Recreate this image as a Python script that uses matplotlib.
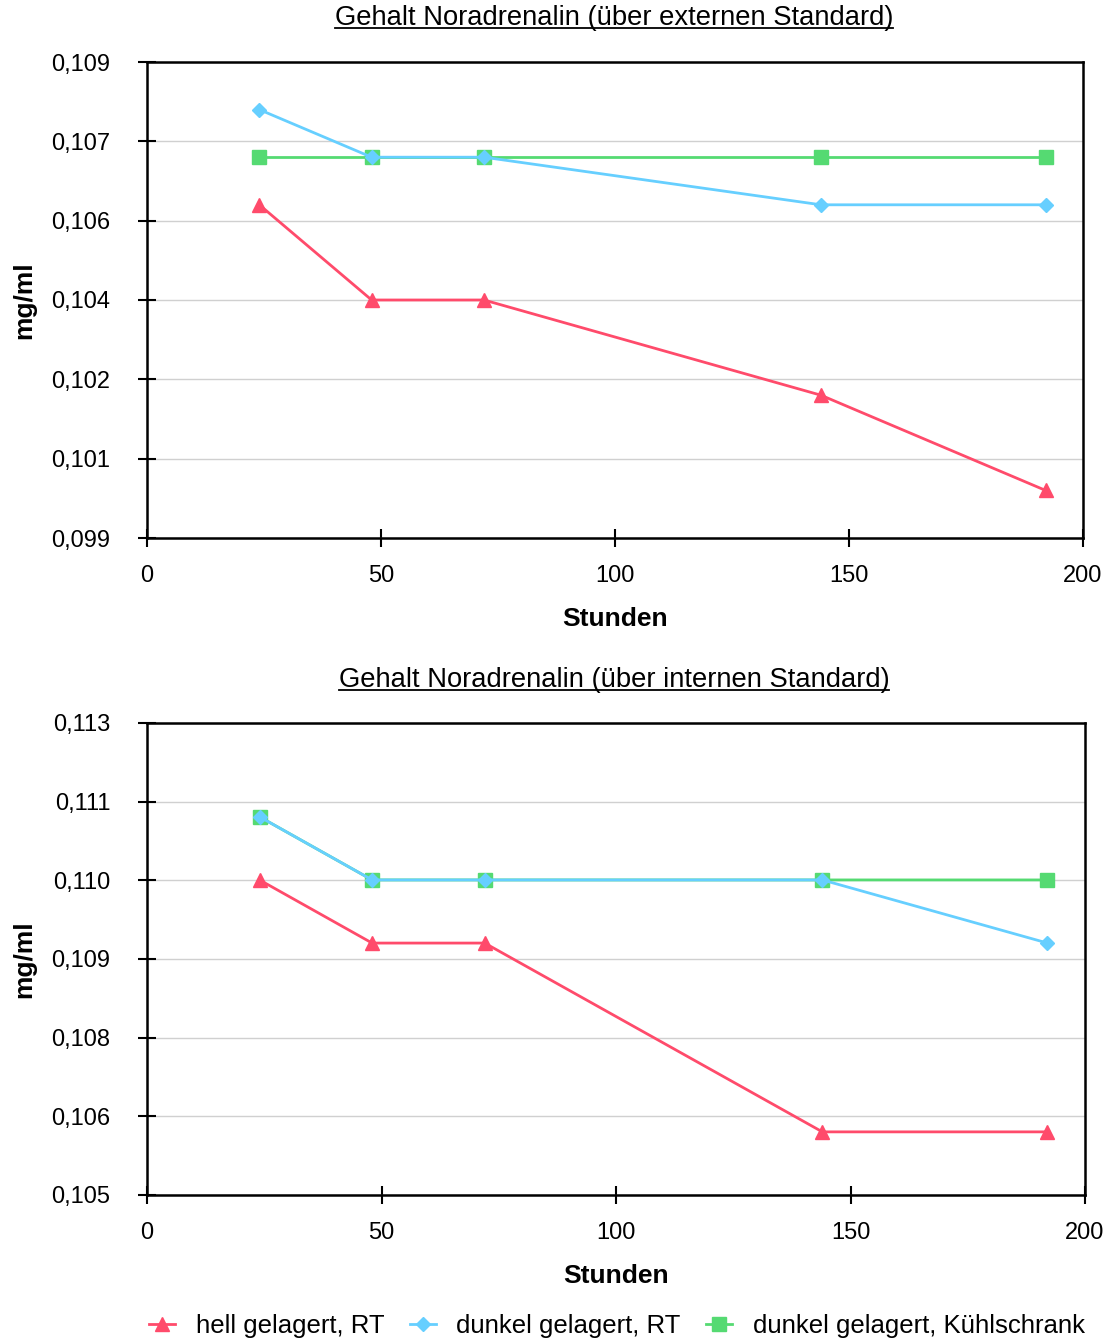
import numpy as np
import matplotlib
matplotlib.use("Agg")
import matplotlib.pyplot as plt
from matplotlib.lines import Line2D
from matplotlib.ticker import FixedLocator, FixedFormatter

plt.rcParams['font.family'] = ['Liberation Sans', 'DejaVu Sans']

hours = [24, 48, 72, 144, 192]

# oberes Diagramm: externer Standard
ext_hell = [0.1060, 0.1040, 0.1040, 0.1020, 0.1000]
ext_dunkel = [0.1080, 0.1070, 0.1070, 0.1060, 0.1060]
ext_kuehl = [0.1070, 0.1070, 0.1070, 0.1070, 0.1070]
ext_ylim = (0.099, 0.109)
ext_yticklabels = ["0,099", "0,101", "0,102", "0,104", "0,106", "0,107", "0,109"]

# unteres Diagramm: interner Standard
int_hell = [0.11034, 0.10927, 0.10927, 0.10607, 0.10607]
int_dunkel = [0.11141, 0.11034, 0.11034, 0.11034, 0.10927]
int_kuehl = [0.11141, 0.11034, 0.11034, 0.11034, 0.11034]
int_ylim = (0.105, 0.113)
int_yticklabels = ["0,105", "0,106", "0,108", "0,109", "0,110", "0,111", "0,113"]

xticks = [0, 50, 100, 150, 200]

series_names = ["hell gelagert, RT", "dunkel gelagert, RT", "dunkel gelagert, Kühlschrank"]
colors = ["#FF4B6B", "#66CFFF", "#55DA72"]
markers = ["^", "D", "s"]
msizes = [10, 7, 10]
zorders = [3, 5, 4]

W, H = 1112, 1342
fig = plt.figure(figsize=(W / 100, H / 100), dpi=100)


def px_axes(left, top, right, bottom):
    return fig.add_axes([left / W, 1 - bottom / H, (right - left) / W, (bottom - top) / H])


def draw_panel(ax, data, ylim, yticklabels):
    for vals, c, m, ms, z, name in zip(data, colors, markers, msizes, zorders, series_names):
        ax.plot(hours, vals, color=c, lw=2, marker=m, markersize=ms, zorder=z, label=name,
                clip_on=False)
    ax.set_xlim(0, 200)
    ax.set_ylim(*ylim)
    ax.xaxis.set_major_locator(FixedLocator(xticks))
    yt = np.linspace(ylim[0], ylim[1], len(yticklabels))
    ax.yaxis.set_major_locator(FixedLocator(yt))
    ax.yaxis.set_major_formatter(FixedFormatter(yticklabels))
    ax.grid(axis='y', color='#d0d0d0', lw=1)
    ax.set_axisbelow(True)
    for s in ax.spines.values():
        s.set_linewidth(1.8)
        s.set_color('black')
    ax.tick_params(direction='inout', length=13, width=1.5, labelsize=17, colors='black')
    ax.tick_params(axis='y', pad=20)
    ax.tick_params(axis='x', pad=13)
    ax.set_xlabel("Stunden", fontsize=19, fontweight='bold', labelpad=14)
    ax.set_ylabel("mg/ml", fontsize=19, fontweight='bold', labelpad=11)


ax1 = px_axes(147, 62, 1083, 538)
draw_panel(ax1, [ext_hell, ext_dunkel, ext_kuehl], ext_ylim, ext_yticklabels)
ax2 = px_axes(147, 723, 1085, 1195)
draw_panel(ax2, [int_hell, int_dunkel, int_kuehl], int_ylim, int_yticklabels)

titles = [
    ("Gehalt Noradrenalin (über externen Standard)", 18),
    ("Gehalt Noradrenalin (über internen Standard)", 680),
]
title_objs = []
for txt, ypix in titles:
    t = fig.text(614 / W, 1 - ypix / H, txt, ha='center', va='center', fontsize=19.7)
    title_objs.append(t)

handles = [Line2D([0], [0], color=c, lw=2, marker=m, markersize=ms)
           for c, m, ms in zip(colors, markers, msizes)]
fig.legend(handles, series_names, loc='center', bbox_to_anchor=(617 / W, 1 - 1326 / H),
           ncol=3, frameon=False, fontsize=18.5, handlelength=1.0, columnspacing=1.0,
           handletextpad=0.8)

# Unterstreichung der Titel
fig.canvas.draw()
r = fig.canvas.get_renderer()
for t in title_objs:
    bb = t.get_window_extent(r)
    y = bb.y0 + 3
    fig.add_artist(Line2D([bb.x0 / W, bb.x1 / W], [y / H, y / H], color='black', lw=1.3,
                          transform=fig.transFigure))

fig.savefig("out.png", dpi=100)
